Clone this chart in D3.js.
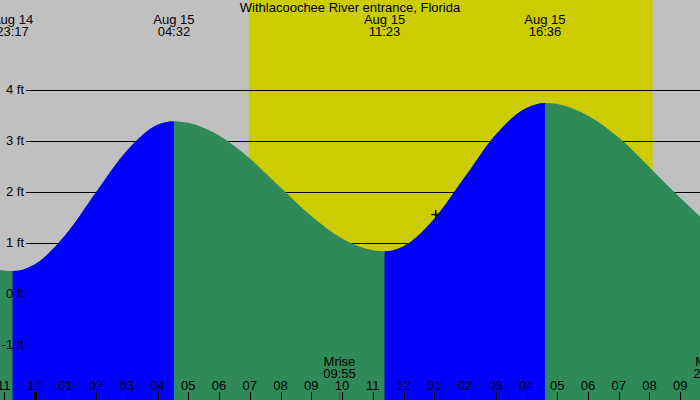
<!DOCTYPE html>
<html lang="en">
    <head>
        <meta charset="utf-8">
        <title>Withlacoochee River entrance tide</title>
        <script src="https://d3js.org/d3.v7.min.js"></script>
        <style>
            body { margin: 0; background: #fff; }
            text { font-family: "Liberation Sans", Arial, sans-serif; font-size: 13px; fill: #000; }
        </style>
    </head>
    <body>
        <script type="text/javascript">

            //chart title
            var title = "Withlacoochee River entrance, Florida";

            //tide highs and lows (local time, feet)
            var extremeTimes = ["2024-08-14 23:17", "2024-08-15 04:32", "2024-08-15 11:23", "2024-08-15 16:36"];
            var extremeHeights = [0.44, 3.38, 0.83, 3.74];
            var extremeRising = [true, false, true, false];

            //tide height (local time, feet)
            var tideTimes = [
                "2024-08-14 22:30", "2024-08-14 23:00", "2024-08-14 23:17",
                "2024-08-15 00:00", "2024-08-15 01:00", "2024-08-15 02:00", "2024-08-15 03:00",
                "2024-08-15 04:00", "2024-08-15 04:32", "2024-08-15 05:00", "2024-08-15 06:00",
                "2024-08-15 07:00", "2024-08-15 08:00", "2024-08-15 09:00", "2024-08-15 10:00",
                "2024-08-15 11:00", "2024-08-15 11:23", "2024-08-15 12:00", "2024-08-15 13:00",
                "2024-08-15 14:00", "2024-08-15 15:00", "2024-08-15 16:00", "2024-08-15 16:36",
                "2024-08-15 17:00", "2024-08-15 18:00", "2024-08-15 19:00", "2024-08-15 20:00",
                "2024-08-15 21:00", "2024-08-15 22:00", "2024-08-15 23:00"
            ];
            var tideHeights = [
                0.53, 0.45, 0.44,
                0.57, 1.15, 1.99, 2.80,
                3.31, 3.38, 3.35, 3.10,
                2.65, 2.08, 1.52, 1.08,
                0.85, 0.83, 0.93, 1.47,
                2.29, 3.12, 3.64, 3.74,
                3.72, 3.49, 3.06, 2.48,
                1.88, 1.33, 0.95
            ];

            //daylight
            var sunrise = "2024-08-15 06:58";
            var sunset = "2024-08-15 20:06";

            //moon events
            var moonLabels = ["Mrise", "Mset"];
            var moonTimes = ["2024-08-15 09:55", "2024-08-15 21:57"];

            //current time marker
            var nowTime = "2024-08-15 13:03";
            var nowHeight = 1.55;

            //y axis ticks (ft)
            var yTicks = [-1, 0, 1, 2, 3, 4];

            var parse = d3.timeParse("%Y-%m-%d %H:%M");

            var width = 700;
            var height = 400;

            var svg = d3.select("body")
                .append("svg")
                .attr("width", width)
                .attr("height", height);

            //scales
            var xScale = d3.scaleTime()
                .domain([parse("2024-08-14 22:52"), parse("2024-08-15 21:37")])
                .range([-0.3, 699.2]);

            var yScale = d3.scaleLinear()
                .domain([-1, 4])
                .range([344.5, 89.7]);

            //background (night)
            svg.append("rect")
                .attr("width", width)
                .attr("height", height)
                .attr("fill", "#c0c0c0");

            //daylight band
            svg.append("rect")
                .attr("x", xScale(parse(sunrise)))
                .attr("y", 0)
                .attr("width", xScale(parse(sunset)) - xScale(parse(sunrise)))
                .attr("height", height)
                .attr("fill", "#cccc00");

            //gridlines
            svg.selectAll(".grid")
                .data(yTicks)
                .enter()
                .append("line")
                .attr("class", "grid")
                .attr("x1", 26)
                .attr("x2", width)
                .attr("y1", function(d) { return Math.round(yScale(d)) + 0.5; })
                .attr("y2", function(d) { return Math.round(yScale(d)) + 0.5; })
                .attr("stroke", "#000")
                .attr("stroke-width", 1);

            var tide = tideTimes.map(function(t, i) {
                return {t: parse(t), h: tideHeights[i]};
            });

            var area = d3.area()
                .curve(d3.curveMonotoneX)
                .x(function(d) { return xScale(d.t); })
                .y0(height)
                .y1(function(d) { return yScale(d.h); });

            //clip rects for rising (blue) parts
            var defs = svg.append("defs");
            var clip = defs.append("clipPath").attr("id", "rising");
            for (var i = 0; i < extremeTimes.length; i++) {
                if (!extremeRising[i]) continue;
                var x0 = xScale(parse(extremeTimes[i]));
                var x1 = i + 1 < extremeTimes.length ? xScale(parse(extremeTimes[i + 1])) : width;
                clip.append("rect")
                    .attr("x", x0)
                    .attr("y", 0)
                    .attr("width", x1 - x0)
                    .attr("height", height);
            }

            //falling tide fill
            svg.append("path")
                .datum(tide)
                .attr("d", area)
                .attr("fill", "#2e8b57");

            //rising tide fill
            svg.append("path")
                .datum(tide)
                .attr("d", area)
                .attr("clip-path", "url(#rising)")
                .attr("fill", "#0000ff");

            //y labels
            svg.selectAll(".ylabel")
                .data(yTicks)
                .enter()
                .append("text")
                .attr("class", "ylabel")
                .attr("text-anchor", "end")
                .attr("x", 24)
                .attr("y", function(d) { return yScale(d) + 4.5; })
                .text(function(d) { return d + " ft"; });

            //hour ticks along the bottom
            var hours = d3.timeHour.range(d3.timeHour.ceil(xScale.domain()[0]), xScale.domain()[1]);
            var fmtHour = d3.timeFormat("%I");

            svg.selectAll(".htick")
                .data(hours)
                .enter()
                .append("line")
                .attr("class", "htick")
                .attr("x1", function(d) { return Math.round(xScale(d)) + 0.5; })
                .attr("x2", function(d) { return Math.round(xScale(d)) + 0.5; })
                .attr("y1", 392)
                .attr("y2", height)
                .attr("stroke", "#000")
                .attr("stroke-width", function(d) { return d.getHours() == 0 ? 3 : 1; });

            svg.selectAll(".hlabel")
                .data(hours)
                .enter()
                .append("text")
                .attr("class", "hlabel")
                .attr("text-anchor", "middle")
                .attr("x", function(d) { return xScale(d); })
                .attr("y", 390)
                .text(function(d) { return fmtHour(d); });

            //moon rise / set
            var fmtTime = d3.timeFormat("%H:%M");
            moonTimes.forEach(function(t, i) {
                var mx = xScale(parse(t));
                svg.append("line")
                    .attr("x1", Math.round(mx) + 0.5)
                    .attr("x2", Math.round(mx) + 0.5)
                    .attr("y1", 392)
                    .attr("y2", height)
                    .attr("stroke", "#ff0000");
                svg.append("text")
                    .attr("text-anchor", "middle")
                    .attr("x", mx)
                    .attr("y", 366)
                    .text(moonLabels[i]);
                svg.append("text")
                    .attr("text-anchor", "middle")
                    .attr("x", mx)
                    .attr("y", 378)
                    .text(fmtTime(parse(t)));
            });

            //high / low times at top
            var fmtDay = d3.timeFormat("%b %d");
            extremeTimes.forEach(function(t) {
                var ex = xScale(parse(t));
                svg.append("text")
                    .attr("text-anchor", "middle")
                    .attr("x", ex)
                    .attr("y", 24)
                    .text(fmtDay(parse(t)));
                svg.append("text")
                    .attr("text-anchor", "middle")
                    .attr("x", ex)
                    .attr("y", 36)
                    .text(fmtTime(parse(t)));
            });

            //title
            svg.append("text")
                .attr("text-anchor", "middle")
                .attr("x", width / 2)
                .attr("y", 12)
                .text(title);

            //current time cross
            var cx = xScale(parse(nowTime));
            var cy = yScale(nowHeight);
            svg.append("line")
                .attr("x1", cx - 4.5).attr("x2", cx + 4.5)
                .attr("y1", cy).attr("y2", cy)
                .attr("stroke", "#000").attr("stroke-width", 1.5);
            svg.append("line")
                .attr("x1", cx).attr("x2", cx)
                .attr("y1", cy - 4.5).attr("y2", cy + 4.5)
                .attr("stroke", "#000").attr("stroke-width", 1.5);

        </script>
    </body>
</html>
